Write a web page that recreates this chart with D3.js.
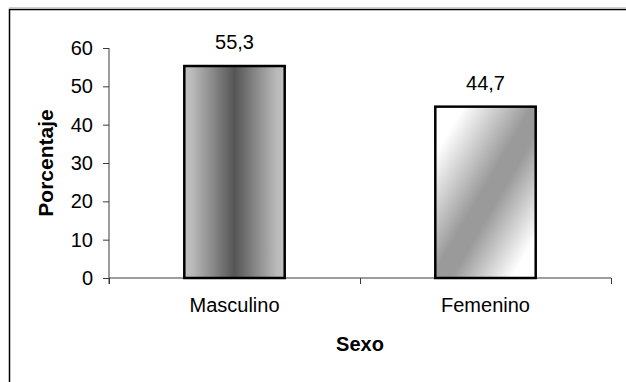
<!DOCTYPE html>
<html>
<head>
<meta charset="utf-8">
<script src="https://cdn.jsdelivr.net/npm/d3@7/dist/d3.min.js"></script>
<style>
  html, body { margin: 0; padding: 0; background: #fff; }
  svg { display: block; }
  text { font-family: "Liberation Sans", Arial, sans-serif; fill: #000; }
</style>
</head>
<body>
<svg id="chart" width="626" height="382"></svg>
<script>
const categories = ["Masculino", "Femenino"];
const values = [55.3, 44.7];
const valueLabels = ["55,3", "44,7"];
const yTicks = [0, 10, 20, 30, 40, 50, 60];
const xTitle = "Sexo";
const yTitle = "Porcentaje";

const svg = d3.select("#chart");

// gradients
const defs = svg.append("defs");
const g1 = defs.append("linearGradient").attr("id", "grad0")
  .attr("x1", 0).attr("y1", 0).attr("x2", 1).attr("y2", 0);
[[0, "#bfbfbf"], [0.08, "#bababa"], [0.5, "#555555"], [0.92, "#bababa"], [1, "#bfbfbf"]]
  .forEach(([o, c]) => g1.append("stop").attr("offset", o).attr("stop-color", c));
const g2 = defs.append("linearGradient").attr("id", "grad1")
  .attr("x1", 0).attr("y1", 0).attr("x2", 1).attr("y2", 1);
[[0, "#ffffff"], [0.14, "#ffffff"], [0.48, "#9a9a9a"], [0.58, "#9a9a9a"], [0.88, "#ffffff"], [1, "#ffffff"]]
  .forEach(([o, c]) => g2.append("stop").attr("offset", o).attr("stop-color", c));

// outer frame
svg.append("line").attr("x1", 9).attr("x2", 626).attr("y1", 7.5).attr("y2", 7.5)
  .attr("stroke", "#d0d0d0").attr("stroke-width", 1);
svg.append("rect").attr("x", 9.5).attr("y", 9.5).attr("width", 800).attr("height", 600)
  .attr("fill", "none").attr("stroke", "#000").attr("stroke-width", 1.5);

const pLeft = 109, pRight = 611, pTop = 48, pBottom = 278;

const x = d3.scaleBand().domain(categories).range([pLeft, pRight])
  .paddingInner(0.6).paddingOuter(0.3);
const xEdges = d3.scaleLinear().domain([0, categories.length]).range([pLeft, pRight]);
const y = d3.scaleLinear().domain([0, 60]).range([pBottom, pTop]);

const axisColor = "#3a3a3a";

// y axis
const yAxis = svg.append("g").attr("transform", `translate(${pLeft},0)`)
  .call(d3.axisLeft(y).tickValues(yTicks).tickSize(6).tickPadding(10).tickFormat(d3.format("d")));
yAxis.attr("font-family", null);
yAxis.select(".domain").attr("d", `M0,${pTop}V${pBottom + 6}`).attr("stroke", axisColor);
yAxis.selectAll(".tick line").attr("stroke", axisColor);
yAxis.selectAll(".tick text").style("font-size", "20px").attr("fill", "#000");

// x axis boundary ticks
const xAxis = svg.append("g").attr("transform", `translate(0,${pBottom})`)
  .call(d3.axisBottom(xEdges).tickValues(d3.range(categories.length + 1)).tickSize(6).tickFormat(""));
xAxis.select(".domain").attr("d", `M${pLeft},0H${pRight}`).attr("stroke", axisColor);
xAxis.selectAll(".tick line").attr("stroke", axisColor);

// category labels
const xLab = svg.append("g").attr("transform", `translate(0,${pBottom})`)
  .call(d3.axisBottom(x).tickSize(0).tickPadding(20));
xLab.attr("font-family", null);
xLab.select(".domain").remove();
xLab.selectAll(".tick text").style("font-size", "20px").attr("fill", "#000");

// bars
svg.append("g").selectAll("rect").data(values).join("rect")
  .attr("x", (d, i) => x(categories[i]))
  .attr("y", d => y(d))
  .attr("width", x.bandwidth())
  .attr("height", d => y(0) - y(d))
  .attr("fill", (d, i) => `url(#grad${i})`)
  .attr("stroke", "#000").attr("stroke-width", 2.5);

// value labels
svg.append("g").selectAll("text").data(values).join("text")
  .attr("x", (d, i) => x(categories[i]) + x.bandwidth() / 2)
  .attr("y", d => y(d) - 17)
  .attr("text-anchor", "middle")
  .style("font-size", "20px")
  .text((d, i) => valueLabels[i]);

// titles
svg.append("text").attr("x", (pLeft + pRight) / 2).attr("y", 351)
  .attr("text-anchor", "middle").style("font-size", "20px").style("font-weight", "bold")
  .text(xTitle);
svg.append("text").attr("transform", `translate(53,${(pTop + pBottom) / 2}) rotate(-90)`)
  .attr("text-anchor", "middle").style("font-size", "21px").style("font-weight", "bold")
  .text(yTitle);
</script>
</body>
</html>
